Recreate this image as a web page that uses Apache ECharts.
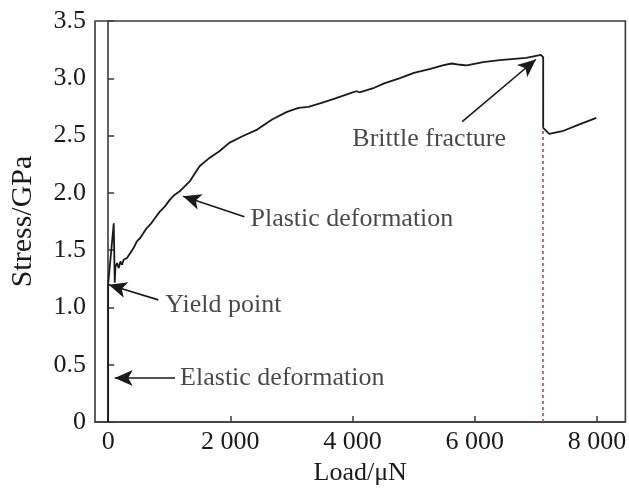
<!DOCTYPE html>
<html>
<head>
<meta charset="utf-8">
<script src="https://cdn.jsdelivr.net/npm/echarts@6/dist/echarts.min.js"></script>
<style>html,body{margin:0;padding:0;background:#fff;}#c{width:629px;height:492px;}</style>
</head>
<body>
<div id="c"></div>
<script>
// Load (µN) and stress (GPa)
const loadValues = [0, 0, 92, 108, 120, 146, 173, 201, 227, 254, 308, 363, 416, 470, 525, 578, 632, 687, 768, 849, 930, 1011, 1091, 1172, 1253, 1334, 1496, 1658, 1820, 1982, 2198, 2440, 2683, 2926, 3116, 3278, 3494, 3708, 3978, 4060, 4113, 4356, 4518, 4788, 5004, 5274, 5490, 5626, 5760, 5869, 6138, 6408, 6840, 7044, 7083, 7120, 7120, 7218, 7245, 7433, 7703, 7990];
const stressValues = [0, 1.20, 1.735, 1.215, 1.357, 1.387, 1.343, 1.401, 1.372, 1.416, 1.431, 1.475, 1.518, 1.576, 1.606, 1.649, 1.693, 1.722, 1.781, 1.838, 1.882, 1.941, 1.984, 2.013, 2.057, 2.100, 2.232, 2.305, 2.363, 2.436, 2.494, 2.552, 2.640, 2.707, 2.742, 2.751, 2.786, 2.823, 2.873, 2.887, 2.878, 2.917, 2.955, 3.004, 3.048, 3.083, 3.115, 3.129, 3.118, 3.112, 3.141, 3.158, 3.179, 3.199, 3.204, 3.182, 2.567, 2.515, 2.500, 2.538, 2.596, 2.655];

// Fracture marker (red dotted line)
const fractureLoad = 7108;
const fractureStress = 2.57;

// Tick labels
const xTicks = [0, 2000, 4000, 6000, 8000];
const yTicks = [0, 0.5, 1.0, 1.5, 2.0, 2.5, 3.0, 3.5];

// Annotation texts and arrows (data coordinates)
const annoTexts = ['Brittle fracture', 'Plastic deformation', 'Yield point', 'Elastic deformation'];
const annoTextLoad = [3996, 2329, 935, 1178];
const annoTextStress = [2.465, 1.774, 1.023, 0.385];
const arrowFromLoad = [5795, 2230, 821, 1096];
const arrowFromStress = [2.622, 1.792, 1.066, 0.385];
const arrowToLoad = [7000, 1226, 11, 108];
const arrowToStress = [3.164, 1.971, 1.198, 0.385];

const FONT = '"Liberation Serif", "Times New Roman", serif';
const TXT = '#1a1a1a';

const curve = loadValues.map((v, i) => [v, stressValues[i]]);
const textPts = annoTexts.map((t, i) => ({ value: [annoTextLoad[i], annoTextStress[i]], name: t }));
const arrows = annoTexts.map((t, i) => [
  { coord: [arrowFromLoad[i], arrowFromStress[i]] },
  { coord: [arrowToLoad[i], arrowToStress[i]] }
]);

const chart = echarts.init(document.getElementById('c'), null, { renderer: 'canvas' });
chart.setOption({
  animation: false,
  backgroundColor: '#fff',
  grid: { left: 91, right: 2, top: 21, bottom: 70, show: true, borderColor: '#3a3a3a', borderWidth: 1.6, containLabel: false },
  xAxis: {
    type: 'value', min: -215, max: 8465,
    name: 'Load/\u03bcN', nameLocation: 'middle', nameGap: 38,
    nameTextStyle: { fontFamily: FONT, fontSize: 26, color: TXT },
    axisLine: { show: true, lineStyle: { color: '#3a3a3a', width: 1.6 } },
    axisTick: { show: true, inside: true, length: 6, customValues: xTicks, lineStyle: { color: '#3a3a3a', width: 1.5 } },
    axisLabel: { customValues: xTicks, fontFamily: FONT, fontSize: 26, color: TXT, margin: 7,
      formatter: v => v >= 1000 ? Math.floor(v / 1000) + ' 000' : String(v) },
    splitLine: { show: false }
  },
  yAxis: {
    type: 'value', min: 0, max: 3.5, interval: 0.5,
    name: 'Stress/GPa', nameLocation: 'middle', nameGap: 57, nameRotate: 90,
    nameTextStyle: { fontFamily: FONT, fontSize: 30, color: TXT },
    axisLine: { show: true, lineStyle: { color: '#3a3a3a', width: 1.6 } },
    axisTick: { show: true, inside: true, length: 6, lineStyle: { color: '#3a3a3a', width: 1.5 } },
    axisLabel: { fontFamily: FONT, fontSize: 26, color: TXT, margin: 9,
      formatter: v => v === 0 ? '0' : v.toFixed(1) },
    splitLine: { show: false }
  },
  series: [
    {
      type: 'line', data: curve, showSymbol: false, symbol: 'none',
      lineStyle: { color: '#1a1a1a', width: 1.8 },
      z: 3,
      markLine: {
        silent: true, symbol: ['none', 'none'],
        label: { show: false },
        lineStyle: { color: '#e0393e', type: [3, 3], width: 1.6 },
        data: [[{ coord: [fractureLoad, 0] }, { coord: [fractureLoad, fractureStress] }]]
      }
    },
    {
      type: 'scatter', data: textPts, symbolSize: 0, silent: true,
      label: { show: true, position: 'right', distance: 0, formatter: p => p.name,
        fontFamily: FONT, fontSize: 26, color: TXT },
      markLine: {
        silent: true, symbol: ['none', 'arrow'], symbolSize: [12, 18],
        label: { show: false },
        lineStyle: { color: '#1a1a1a', type: 'solid', width: 1.6 },
        itemStyle: { color: '#1a1a1a' },
        data: arrows
      }
    }
  ]
});
</script>
</body>
</html>
